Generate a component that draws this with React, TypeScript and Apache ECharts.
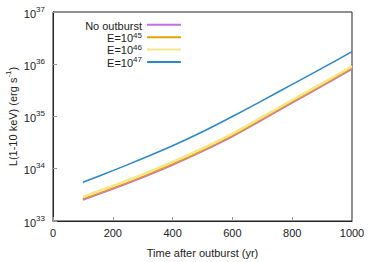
import React, { useEffect, useRef } from "react";
import * as echarts from "echarts";

const years = [100, 200, 300, 400, 500, 600, 700, 800, 900, 1000];
const noOutburst = [2.55e33, 4.12e33, 6.85e33, 1.19e34, 2.17e34, 4.17e34, 8.7e34, 1.84e35, 3.85e35, 8.15e35];
const e45 = [2.63e33, 4.27e33, 7.08e33, 1.23e34, 2.24e34, 4.3e34, 9.0e34, 1.9e35, 3.98e35, 8.4e35];
const e46 = [2.9e33, 4.7e33, 7.8e33, 1.35e34, 2.45e34, 4.7e34, 9.8e34, 2.07e35, 4.3e35, 9.15e35];
const e47 = [5.5e33, 9.2e33, 1.57e34, 2.75e34, 5.1e34, 1.0e35, 2.02e35, 4.12e35, 8.4e35, 1.74e36];
const seriesNames = ["No outburst", "E=10^45", "E=10^46", "E=10^47"];
const xTicks = [0, 200, 400, 600, 800, 1000];

const FONT = "Liberation Sans, Arial, sans-serif";

export default function App() {
  const ref = useRef<HTMLDivElement>(null);
  useEffect(() => {
    if (!ref.current) return;
    const chart = echarts.init(ref.current, null, { renderer: "svg" });
    const pairs = (ys: number[]) => years.map((x, i) => [x, ys[i]]);
    const rich = {
      b: { fontSize: 11, fontFamily: FONT, color: "#222", lineHeight: 14, verticalAlign: "bottom" },
      sup: { fontSize: 8, fontFamily: FONT, color: "#222", lineHeight: 14, verticalAlign: "top" },
    };
    const legRich = {
      b: { fontSize: 11, fontFamily: FONT, color: "#222", lineHeight: 12.4, verticalAlign: "bottom" },
      sup: { fontSize: 8, fontFamily: FONT, color: "#222", lineHeight: 12.4, verticalAlign: "top" },
    };
    const mk = (name: string, data: number[], color: string, width: number) => ({
      name,
      type: "line",
      data: pairs(data),
      smooth: 0.3,
      showSymbol: false,
      lineStyle: { color, width },
      itemStyle: { color },
    });
    chart.setOption({
      animation: false,
      grid: { left: 53, right: 22, top: 12, bottom: 41, show: true, borderColor: "#222", borderWidth: 1, backgroundColor: "transparent", outerBoundsMode: "none", containLabel: false },
      legend: {
        orient: "vertical",
        right: 188,
        top: 15,
        align: "right",
        itemGap: 0,
        itemWidth: 34,
        itemHeight: 2,
        icon: "rect",
        data: seriesNames,
        formatter: (n: string) => {
          if (n.includes("^")) {
            const [a, b] = n.split("^");
            return `{b|${a}}{sup|${b}}`;
          }
          return `{b|${n}}`;
        },
        textStyle: { rich: legRich, fontFamily: FONT },
      },
      xAxis: {
        type: "value",
        min: 0,
        max: 1000,
        interval: 200,
        name: "Time after outburst (yr)",
        nameLocation: "middle",
        nameGap: 26,
        nameMoveOverlap: false,
        nameTextStyle: { fontSize: 11, fontFamily: FONT, color: "#222", verticalAlign: "top" },
        axisLine: { lineStyle: { color: "#222" } },
        axisTick: { inside: true, length: 4, lineStyle: { color: "#999" } },
        axisLabel: { fontSize: 11, fontFamily: FONT, color: "#222", margin: 6, formatter: (v: number) => (xTicks.includes(v) ? String(v) : "") },
        splitLine: { show: false },
      },
      yAxis: {
        type: "log",
        logBase: 10,
        min: 1e33,
        max: 1e37,
        name: "{b|L(1-10 keV) (erg s}{sup|-1}{b|)}",
        nameLocation: "middle",
        nameGap: 35,
        nameMoveOverlap: false,
        nameTextStyle: { rich, fontFamily: FONT },
        axisLine: { lineStyle: { color: "#222" } },
        axisTick: { inside: true, length: 4, lineStyle: { color: "#999" } },
        axisLabel: {
          margin: 8,
          formatter: (v: number) => `{b|10}{sup|${Math.round(Math.log10(v))}}`,
          rich,
        },
        splitLine: { show: false },
      },
      series: [
        mk(seriesNames[0], noOutburst, "#c070e8", 2),
        mk(seriesNames[1], e45, "#e8a000", 1.5),
        mk(seriesNames[2], e46, "#f4e68a", 2.5),
        mk(seriesNames[3], e47, "#2a88c8", 1.5),
      ],
    });
    return () => chart.dispose();
  }, []);
  return <div ref={ref} style={{ position: "absolute", left: 0, top: 0, width: 374, height: 262 }} />;
}
